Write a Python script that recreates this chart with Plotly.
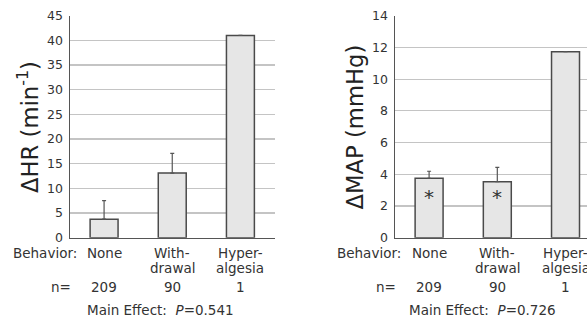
import plotly.graph_objects as go

categories = ["None", "Withdrawal", "Hyperalgesia"]
label_line1 = ["None", "With-", "Hyper-"]
label_line2 = ["", "drawal", "algesia"]
n_values = ["209", "90", "1"]

hr_values = [3.75, 13.1, 41.0]
hr_err = [3.75, 4.0, 0.0]
hr_p = "0.541"

map_values = [3.75, 3.53, 11.73]
map_err = [0.44, 0.91, 0.0]
map_p = "0.726"
map_star = [True, True, False]
star_y = 2.63

hr_ticks = [0, 5, 10, 15, 20, 25, 30, 35, 40, 45]
map_ticks = [0, 2, 4, 6, 8, 10, 12, 14]

W, H = 587, 321
FONT = "DejaVu Sans"
TXT = "#333333"
BAR_FILL = "#e6e6e6"
BAR_LINE = "#4a4a4a"
GRID = "#c4c4c4"
FS = 13.5
TFS = 22.7


def py(p):
    return 1 - p / H


fig = go.Figure()

fig.add_trace(go.Bar(
    x=categories, y=hr_values, width=0.41,
    marker=dict(color=BAR_FILL, line=dict(color=BAR_LINE, width=1.5)),
    error_y=dict(type="data", symmetric=False, array=hr_err,
                 arrayminus=[0] * 3, color="#555555", thickness=1.2, width=2),
    xaxis="x", yaxis="y", showlegend=False, hoverinfo="skip"))

fig.add_trace(go.Bar(
    x=categories, y=map_values, width=0.41,
    marker=dict(color=BAR_FILL, line=dict(color=BAR_LINE, width=1.5)),
    error_y=dict(type="data", symmetric=False, array=map_err,
                 arrayminus=[0] * 3, color="#555555", thickness=1.2, width=2),
    xaxis="x2", yaxis="y2", showlegend=False, hoverinfo="skip"))

ydom = [py(237.7), py(15.7)]
common_y = dict(showgrid=True, gridcolor=GRID, gridwidth=1.2, zeroline=False,
                showline=True, linecolor="#555555", linewidth=1.5,
                automargin=False,
                ticks="outside", ticklen=3, tickcolor="rgba(0,0,0,0)",
                tickfont=dict(family=FONT, size=12.5, color=TXT))
common_x = dict(type="category", showgrid=False, zeroline=False,
                showline=True, linecolor="#555555", linewidth=1.5,
                automargin=False, showticklabels=False, ticks="")

fig.update_layout(
    width=W, height=H,
    margin=dict(l=0, r=0, t=0, b=0, pad=0),
    paper_bgcolor="white", plot_bgcolor="white",
    font=dict(family=FONT, size=FS, color=TXT),
    bargap=0,
    xaxis=dict(domain=[70 / W, 274.5 / W], range=[-0.5, 2.5],
               categoryarray=categories, categoryorder="array", **common_x),
    yaxis=dict(domain=ydom, range=[0, 45], tickvals=hr_ticks,
               anchor="x", **common_y),
    xaxis2=dict(domain=[395 / W, 1], range=[-0.5, 2.315],
                categoryarray=categories, categoryorder="array", anchor="y2",
                **common_x),
    yaxis2=dict(domain=ydom, range=[0, 14], tickvals=map_ticks,
                anchor="x2", **common_y),
)

ann = []
panels = [("x", 79, 73, 160, hr_p, 28, "ΔHR (min<sup>-1</sup>)"),
          ("x2", 403, 398, 482, map_p, 354.5, "ΔMAP (mmHg)")]
for xr, bx, nx, mx, pval, tx, title in panels:
    ann.append(dict(text="Behavior:", xref="paper", yref="paper",
                    x=bx / W, y=py(252.5), xanchor="right", yanchor="middle",
                    showarrow=False, font=dict(size=FS)))
    ann.append(dict(text="n=", xref="paper", yref="paper",
                    x=nx / W, y=py(286.5), xanchor="right", yanchor="middle",
                    showarrow=False, font=dict(size=FS)))
    ann.append(dict(text="Main Effect:  <i>P</i>=" + pval, xref="paper",
                    yref="paper", x=mx / W, y=py(310), xanchor="center",
                    yanchor="middle", showarrow=False, font=dict(size=FS)))
    ann.append(dict(text=title, xref="paper", yref="paper", x=tx / W,
                    y=py(127), xanchor="center", yanchor="middle",
                    textangle=-90, showarrow=False,
                    font=dict(size=TFS, color="#222222")))
    for cat, l1, l2, n in zip(categories, label_line1, label_line2, n_values):
        ann.append(dict(text=l1, xref=xr, yref="paper", x=cat,
                        y=py(252.5), xanchor="center", yanchor="middle",
                        showarrow=False, font=dict(size=FS)))
        if l2:
            ann.append(dict(text=l2, xref=xr, yref="paper", x=cat,
                            y=py(267.5), xanchor="center", yanchor="middle",
                            showarrow=False, font=dict(size=FS)))
        ann.append(dict(text=n, xref=xr, yref="paper", x=cat,
                        y=py(286.5), xanchor="center", yanchor="middle",
                        showarrow=False, font=dict(size=FS)))

for cat, s in zip(categories, map_star):
    if s:
        ann.append(dict(text="*", xref="x2", yref="y2", x=cat, y=star_y,
                        xanchor="center", yanchor="middle", showarrow=False,
                        yshift=-1, font=dict(size=20, color="#333333")))

fig.update_layout(annotations=ann)
fig.write_html(
    "out.html",
    config={"displayModeBar": False, "staticPlot": True},
    post_script="document.body.style.margin='0px';"
                "document.body.style.overflow='hidden';")
